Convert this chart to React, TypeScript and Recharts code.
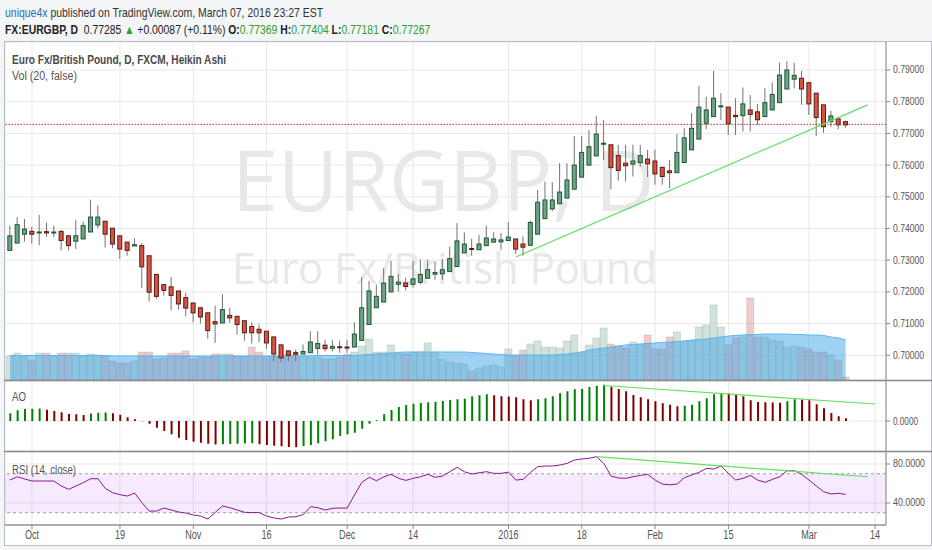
import React, { useLayoutEffect, useRef, useState } from "react";
import {
  ComposedChart,
  Bar,
  Area,
  Line,
  XAxis,
  YAxis,
  CartesianGrid,
  ReferenceLine,
  ReferenceArea,
  Cell,
} from "recharts";

// Heikin Ashi candles, Sep 28 2015 .. Mar 8 2016 (bar index 0..114)
const opens = [
  0.7331, 0.7354, 0.7382, 0.7391, 0.7386, 0.739, 0.7388, 0.7391, 0.7377, 0.736,
  0.7367, 0.7389, 0.7411, 0.7423, 0.7401, 0.7377, 0.7357, 0.7345, 0.7346, 0.7314,
  0.7255, 0.7223, 0.7216, 0.7203, 0.7182, 0.7165, 0.715, 0.7134, 0.7106, 0.7102,
  0.7126, 0.7123, 0.7109, 0.7091, 0.7082, 0.7076, 0.7058, 0.7033, 0.7014, 0.7009,
  0.7004, 0.7008, 0.7022, 0.7032, 0.7022, 0.7027, 0.7026, 0.7026, 0.7047, 0.7097,
  0.715, 0.7168, 0.72, 0.7224, 0.7228, 0.7224, 0.723, 0.7243, 0.7256, 0.7257,
  0.7264, 0.728, 0.7323, 0.7337, 0.7333, 0.7346, 0.7357, 0.7358, 0.7362, 0.7367,
  0.7351, 0.7347, 0.7382, 0.7431, 0.7462, 0.7478, 0.7496, 0.7524, 0.7562, 0.76,
  0.7629, 0.7666, 0.7664, 0.763, 0.7606, 0.7603, 0.7608, 0.7619, 0.7613, 0.7593,
  0.7582, 0.7576, 0.7608, 0.7648, 0.7682, 0.7732, 0.7753, 0.7784, 0.7783, 0.7757,
  0.7756, 0.7774, 0.7768, 0.7753, 0.7774, 0.7797, 0.784, 0.7871, 0.7874, 0.786,
  0.7827, 0.779, 0.7737, 0.7746, 0.7737,
];
const highs = [
  0.7409, 0.7436, 0.743, 0.7406, 0.7443, 0.7419, 0.7409, 0.7395, 0.7377, 0.7427,
  0.7422, 0.7491, 0.7473, 0.7423, 0.7401, 0.7377, 0.7357, 0.737, 0.7354, 0.7314,
  0.7255, 0.7223, 0.7247, 0.7203, 0.7197, 0.7165, 0.715, 0.7134, 0.7157, 0.7193,
  0.715, 0.7123, 0.7109, 0.7104, 0.7097, 0.7076, 0.7058, 0.7033, 0.7014, 0.7018,
  0.7034, 0.7076, 0.7076, 0.7049, 0.7049, 0.7046, 0.7049, 0.7104, 0.7246, 0.7235,
  0.7223, 0.7275, 0.7298, 0.7257, 0.7245, 0.7298, 0.7302, 0.7302, 0.7294, 0.7305,
  0.7343, 0.7417, 0.7388, 0.7367, 0.738, 0.7409, 0.7388, 0.7386, 0.742, 0.7367,
  0.7375, 0.7425, 0.7522, 0.7548, 0.7546, 0.7606, 0.7606, 0.7692, 0.7692, 0.7711,
  0.7755, 0.7742, 0.7664, 0.7664, 0.7664, 0.7664, 0.7664, 0.7648, 0.7648, 0.7593,
  0.7616, 0.7698, 0.7716, 0.7764, 0.785, 0.7816, 0.7897, 0.7827, 0.7783, 0.7811,
  0.7845, 0.7821, 0.7793, 0.7842, 0.7861, 0.7923, 0.7928, 0.7923, 0.7897, 0.786,
  0.7827, 0.779, 0.7771, 0.7746, 0.774,
];
const lows = [
  0.7331, 0.7354, 0.7359, 0.7352, 0.7347, 0.7373, 0.7373, 0.7331, 0.7331, 0.7335,
  0.7367, 0.7389, 0.7401, 0.734, 0.7338, 0.7304, 0.7314, 0.7345, 0.7212, 0.7169,
  0.7178, 0.7188, 0.7142, 0.7144, 0.7123, 0.7104, 0.71, 0.7052, 0.7039, 0.7102,
  0.7102, 0.7065, 0.7046, 0.7037, 0.7042, 0.702, 0.6981, 0.6978, 0.6981, 0.6981,
  0.7004, 0.7008, 0.7002, 0.7012, 0.7012, 0.7008, 0.7008, 0.7026, 0.7047, 0.7097,
  0.715, 0.7168, 0.72, 0.72, 0.7205, 0.7214, 0.7223, 0.7243, 0.7238, 0.7238,
  0.7264, 0.728, 0.7323, 0.7314, 0.7333, 0.7346, 0.7357, 0.7333, 0.7362, 0.732,
  0.7314, 0.7347, 0.7382, 0.7431, 0.7455, 0.7478, 0.7496, 0.7524, 0.7562, 0.76,
  0.7629, 0.7616, 0.7524, 0.7551, 0.7548, 0.7564, 0.7595, 0.7562, 0.7538, 0.7538,
  0.7527, 0.7576, 0.7608, 0.7648, 0.7682, 0.7713, 0.7753, 0.7742, 0.7695, 0.7695,
  0.7706, 0.7706, 0.7727, 0.7753, 0.7774, 0.7797, 0.784, 0.7842, 0.779, 0.7758,
  0.7692, 0.7702, 0.7721, 0.7713, 0.7718,
];
const closes = [
  0.7377, 0.7412, 0.7398, 0.7382, 0.7389, 0.7386, 0.7389, 0.7362, 0.7346, 0.7377,
  0.7409, 0.7436, 0.7436, 0.7382, 0.7351, 0.7335, 0.7331, 0.7349, 0.7279, 0.7199,
  0.7186, 0.7205, 0.7189, 0.7162, 0.7149, 0.7134, 0.7121, 0.7078, 0.7099, 0.7144,
  0.7118, 0.7097, 0.7071, 0.7071, 0.7071, 0.7039, 0.7004, 0.6992, 0.7, 0.7003,
  0.7012, 0.7042, 0.7037, 0.7021, 0.7028, 0.7024, 0.7025, 0.7067, 0.715, 0.7203,
  0.7186, 0.7228, 0.7249, 0.7231, 0.7217, 0.7241, 0.7255, 0.727, 0.7261, 0.727,
  0.7305, 0.7361, 0.7351, 0.7335, 0.7351, 0.737, 0.7367, 0.7364, 0.7373, 0.7335,
  0.7341, 0.7419, 0.7483, 0.749, 0.749, 0.7515, 0.7553, 0.76, 0.764, 0.7658,
  0.7698, 0.7669, 0.7592, 0.7583, 0.7598, 0.7613, 0.763, 0.7604, 0.7572, 0.7564,
  0.7576, 0.764, 0.7686, 0.7716, 0.7783, 0.7774, 0.7811, 0.7787, 0.773, 0.7753,
  0.7793, 0.776, 0.7743, 0.7797, 0.7823, 0.7884, 0.79, 0.7883, 0.784, 0.7793,
  0.775, 0.7721, 0.7755, 0.7727, 0.7727,
];

// Vol (20): volume per bar and its 20-bar average, in thousands
const volumes = [
  24, 27, 24, 20, 27, 27, 24, 27, 27, 27, 24, 26, 25, 24, 19, 17, 17, 19, 28, 28,
  21, 22, 27, 27, 29, 21, 23, 23, 26, 26, 26, 24, 24, 33, 28, 24, 24, 25, 26, 25,
  24, 23, 23, 21, 21, 23, 26, 28, 34, 41, 28, 28, 35, 28, 26, 28, 28, 37, 28, 21,
  18, 17, 16, 9, 12, 14, 15, 13, 31, 24, 30, 36, 39, 33, 33, 32, 39, 45, 28, 35,
  42, 52, 36, 34, 32, 38, 36, 45, 31, 31, 43, 48, 39, 39, 53, 55, 75, 53, 35, 42,
  43, 82, 43, 43, 40, 39, 33, 34, 33, 31, 28, 28, 25, 20, 3,
];
const volumeMa = [
  24.5, 24.5, 24.5, 24.5, 24.5, 24.5, 24.5, 24.5, 24.5, 24.5, 24.5, 24.5, 24.5, 24.5, 24, 24, 24, 24, 24, 24,
  24, 24, 24, 24, 24, 24, 24, 24, 24, 24, 24, 24, 24, 24, 24, 24, 24, 24, 24, 24,
  24, 24.5, 24.5, 24.5, 24.5, 24.5, 24.5, 24.5, 25, 25.5, 26, 26.5, 27, 27.5, 28, 28, 28, 28, 28, 28,
  28, 28, 28, 27.5, 27, 26.5, 26, 25.5, 25, 25, 25, 25, 25, 25, 25, 25.5, 26, 27, 28, 30,
  31, 32, 33, 34, 35, 35.5, 36, 36.5, 37, 37.5, 38, 38.5, 39, 40, 40.5, 41, 42, 43, 44, 44.5,
  45, 45.5, 45.5, 46, 46, 46, 46, 45.5, 45.5, 45, 45, 44.5, 43, 42, 40,
];

// Awesome Oscillator, in pips
const aoValues = [
  31, 43, 48, 49, 50, 45, 40, 35, 28, 27, 24, 30, 33, 34, 31, 25, 15, 7, -1, -11,
  -27, -40, -53, -67, -76, -83, -87, -91, -94, -93, -92, -91, -90, -89, -93, -96, -99, -101, -104, -105,
  -100, -96, -89, -81, -73, -60, -53, -47, -31, -11, 3, 27, 44, 56, 64, 69, 72, 75, 77, 80,
  84, 87, 89, 99, 103, 107, 103, 99, 98, 95, 87, 83, 87, 91, 99, 111, 119, 127, 128, 136,
  141, 145, 137, 128, 119, 104, 95, 87, 79, 71, 65, 59, 61, 65, 79, 91, 107, 111, 110, 104,
  99, 83, 76, 75, 74, 73, 79, 87, 86, 83, 67, 51, 32, 19, 11,
];

// RSI (14, close)
const rsiValues = [
  63.5, 66.9, 64.6, 62.5, 62.5, 62.5, 62.5, 57.4, 54.0, 57.4, 60.8, 64.9, 64.9, 55.0, 50.5, 48.5, 47.1, 50.2, 40.3, 31.7,
  31.7, 34.8, 32.8, 30.7, 29.7, 27.6, 26.6, 23.5, 30.4, 36.9, 35.1, 32.8, 30.4, 30.1, 30.1, 26.6, 24.6, 23.5, 25.6, 25.9,
  28.0, 36.2, 35.1, 32.8, 34.5, 34.8, 34.8, 48.2, 61.2, 66.3, 62.8, 66.9, 69.4, 65.3, 63.2, 65.3, 66.9, 69.4, 66.3, 67.6,
  72.1, 76.6, 72.0, 69.7, 71.0, 72.1, 70.4, 70.4, 71.7, 63.5, 64.2, 71.4, 77.2, 77.9, 77.9, 78.9, 80.6, 84.1, 85.1, 85.8,
  87.5, 80.6, 67.6, 65.6, 65.3, 66.9, 68.3, 69.4, 63.5, 59.4, 58.7, 59.4, 65.9, 68.7, 71.4, 75.5, 74.8, 77.9, 70.4, 63.5,
  65.3, 68.3, 63.5, 61.2, 64.2, 66.9, 73.1, 73.1, 69.4, 63.5, 57.4, 51.5, 49.2, 49.9, 48.8,
];

const tickIndex = [3, 15, 25, 35, 46, 55, 68, 78, 88, 98, 109, 118];
const tickLabels = ["Oct", "19", "Nov", "16", "Dec", "14", "2016", "18", "Feb", "15", "Mar", "14"];
const priceTicks = [0.7, 0.71, 0.72, 0.73, 0.74, 0.75, 0.76, 0.77, 0.78, 0.79];
const lastPrice = 0.77285;

// hand-drawn trend lines: [bar index, value]
const priceTrend = [[69, 0.731], [117, 0.779]];
const aoTrend = [[81, 142], [118, 68]];
const rsiTrend = [[80, 87.5], [117, 66.9]];

// OHLC readout in the header
const ohlcLabels = ["O:", "H:", "L:", "C:"];
const ohlcValues = ["0.77369", "0.77404", "0.77181", "0.77267"];

const X_DOMAIN = [-0.68, 119.5];
const PRICE_DOMAIN = [0.69221, 0.79883];
const FONT = "'Liberation Sans', Arial, sans-serif";
const MARGIN = { top: 0, right: 0, bottom: 0, left: 0 };
const MARGIN_R = { top: 0, right: 45, bottom: 0, left: 0 };

const UP = "#6BA583";
const DOWN = "#D75442";
const QUOTE_GREEN = "#2e9e2e";

const rows = opens.map((o, i) => ({
  i,
  o,
  h: highs[i],
  l: lows[i],
  c: closes[i],
  range: [lows[i], highs[i]],
  v: volumes[i],
  ma: volumeMa[i],
  ao: aoValues[i],
  rsi: rsiValues[i],
}));

function Candle(props: any) {
  const { x, y, width, height, payload } = props;
  if (x == null || y == null) return null;
  const { o, h, l, c } = payload;
  const top = Math.min(y, y + height);
  const hh = Math.abs(height);
  const span = h - l;
  const py = (v: number) => (span > 0 ? top + ((h - v) / span) * hh : top);
  const up = c >= o;
  const cx = x + width / 2;
  const bTop = py(Math.max(o, c));
  const bh = Math.max(py(Math.min(o, c)) - bTop, 1);
  return (
    <g>
      <line x1={cx} x2={cx} y1={top} y2={top + hh} stroke="#737375" strokeWidth={1} />
      <rect
        x={x + 0.5}
        y={bTop}
        width={width - 1}
        height={bh}
        fill={up ? UP : DOWN}
        stroke={up ? "#225437" : "#5B1A13"}
        strokeWidth={1}
      />
    </g>
  );
}

function AxisLabel({ x, y, payload, digits, w }: any) {
  return (
    <text
      x={x + 1}
      y={y + 3.5}
      fontSize={10}
      fill="#555"
      fontFamily={FONT}
      textLength={w}
      lengthAdjust="spacingAndGlyphs"
    >
      {Number(payload.value).toFixed(digits)}
    </text>
  );
}

function DateLabel({ x, y, payload }: any) {
  const label = tickLabels[tickIndex.indexOf(payload.value)];
  return (
    <text
      transform={`translate(${x},${y + 8}) scale(0.76,1)`}
      textAnchor="middle"
      fontSize={12}
      fill="#555"
      fontFamily={FONT}
    >
      {label}
    </text>
  );
}

const seg = (pts: number[][]) => pts.map(([x, y]) => ({ x, y }));

// bottom layer: grid + volume bars
function VolumeLayer() {
  return (
    <ComposedChart width={926} height={338} data={rows} margin={MARGIN_R}>
      <CartesianGrid yAxisId="price" stroke="#e8e8e8" />
      <XAxis dataKey="i" type="number" domain={X_DOMAIN} ticks={tickIndex} hide allowDataOverflow />
      <YAxis yAxisId="price" hide domain={PRICE_DOMAIN} ticks={priceTicks} allowDataOverflow />
      <YAxis yAxisId="vol" hide domain={[0, 338]} allowDataOverflow />
      <Bar yAxisId="vol" dataKey="v" barSize={7} isAnimationActive={false}>
        {rows.map((r) => (
          <Cell
            key={r.i}
            fill={r.c >= r.o ? UP : DOWN}
            fillOpacity={0.3}
            stroke="#8c9aab"
            strokeOpacity={0.5}
            strokeWidth={0.6}
          />
        ))}
      </Bar>
    </ComposedChart>
  );
}

// middle layer: 20-bar volume average
function VolumeMaLayer() {
  return (
    <ComposedChart width={926} height={338} data={rows} margin={MARGIN_R}>
      <XAxis dataKey="i" type="number" domain={X_DOMAIN} hide allowDataOverflow />
      <YAxis yAxisId="vol" hide domain={[0, 338]} allowDataOverflow />
      <Area
        yAxisId="vol"
        dataKey="ma"
        type="monotone"
        fill="#3fa3e6"
        fillOpacity={0.5}
        stroke="#5cb6ee"
        strokeWidth={1}
        isAnimationActive={false}
      />
    </ComposedChart>
  );
}

// top layer: candles, price axis, lines
function PriceLayer() {
  return (
    <ComposedChart width={926} height={338} data={rows} margin={MARGIN}>
      <XAxis dataKey="i" type="number" domain={X_DOMAIN} hide allowDataOverflow />
      <YAxis
        yAxisId="price"
        orientation="right"
        width={45}
        domain={PRICE_DOMAIN}
        ticks={priceTicks}
        allowDataOverflow
        tickSize={4}
        axisLine={{ stroke: "#888" }}
        tickLine={{ stroke: "#888" }}
        tick={<AxisLabel digits={5} w={31} />}
      />
      <Bar yAxisId="price" dataKey="range" barSize={5} shape={<Candle />} isAnimationActive={false} />
      <ReferenceLine yAxisId="price" y={lastPrice} stroke="#b8382a" strokeDasharray="1.5 1.5" />
      <ReferenceLine yAxisId="price" segment={seg(priceTrend)} stroke="#62e062" strokeWidth={1.2} />
    </ComposedChart>
  );
}

function AoPane() {
  return (
    <ComposedChart width={926} height={70} data={rows} margin={MARGIN}>
      <CartesianGrid yAxisId="ao" stroke="#e8e8e8" />
      <XAxis dataKey="i" type="number" domain={X_DOMAIN} ticks={tickIndex} hide allowDataOverflow />
      <YAxis
        yAxisId="ao"
        orientation="right"
        width={45}
        domain={[-120, 160]}
        ticks={[0]}
        allowDataOverflow
        tickSize={4}
        axisLine={{ stroke: "#888" }}
        tickLine={{ stroke: "#888" }}
        tick={<AxisLabel digits={4} w={25} />}
      />
      <Bar yAxisId="ao" dataKey="ao" barSize={2} isAnimationActive={false}>
        {rows.map((r, i) => (
          <Cell key={r.i} fill={i === 0 || aoValues[i] >= aoValues[i - 1] ? "#008000" : "#800000"} />
        ))}
      </Bar>
      <ReferenceLine yAxisId="ao" segment={seg(aoTrend)} stroke="#62e062" strokeWidth={1.2} />
    </ComposedChart>
  );
}

function RsiPane() {
  return (
    <ComposedChart width={926} height={93} data={rows} margin={MARGIN}>
      <CartesianGrid yAxisId="rsi" stroke="#e8e8e8" />
      <XAxis
        dataKey="i"
        type="number"
        domain={X_DOMAIN}
        ticks={tickIndex}
        allowDataOverflow
        height={20}
        tickSize={4}
        axisLine={{ stroke: "#666" }}
        tickLine={{ stroke: "#888" }}
        tick={<DateLabel />}
      />
      <YAxis
        yAxisId="rsi"
        orientation="right"
        width={45}
        domain={[17.4, 92.3]}
        ticks={[40, 80]}
        allowDataOverflow
        tickSize={4}
        axisLine={{ stroke: "#888" }}
        tickLine={{ stroke: "#888" }}
        tick={<AxisLabel digits={4} w={32} />}
      />
      <ReferenceArea yAxisId="rsi" y1={30} y2={70} fill="#9915ff" fillOpacity={0.09} stroke="none" />
      <ReferenceLine yAxisId="rsi" y={70} stroke="#a0a0a0" strokeDasharray="3 3" />
      <ReferenceLine yAxisId="rsi" y={30} stroke="#a0a0a0" strokeDasharray="3 3" />
      <Line
        yAxisId="rsi"
        dataKey="rsi"
        type="linear"
        stroke="#8E1599"
        strokeWidth={1}
        dot={false}
        isAnimationActive={false}
      />
      <ReferenceLine yAxisId="rsi" segment={seg(rsiTrend)} stroke="#62e062" strokeWidth={1.2} />
    </ComposedChart>
  );
}

// html line squeezed horizontally to a given width
function FitText({ x, top, width, size, children }: any) {
  const ref = useRef<HTMLDivElement>(null);
  const [k, setK] = useState(1);
  useLayoutEffect(() => {
    const w = ref.current ? ref.current.scrollWidth : 0;
    if (w > 0) setK(width / w);
  }, [width]);
  return (
    <div
      ref={ref}
      style={{
        position: "absolute",
        left: x,
        top,
        fontSize: size,
        lineHeight: `${size + 2}px`,
        whiteSpace: "nowrap",
        color: "#333",
        transform: `scaleX(${k})`,
        transformOrigin: "0 0",
      }}
    >
      {children}
    </div>
  );
}

function Header() {
  const green = { color: QUOTE_GREEN };
  return (
    <>
      <FitText x={5} top={5} width={318} size={13}>
        <span style={{ color: "#2a6db3" }}>unique4x</span> published on TradingView.com, March 07, 2016 23:27 EST
      </FitText>
      <FitText x={5} top={23} width={425} size={12.5}>
        <b style={{ color: "#222" }}>FX:EURGBP, D</b>
        <span style={{ color: "#222" }}>&nbsp; 0.77285 </span>
        <span style={green}>▲</span>
        <span style={{ color: "#222" }}> +0.00087 (+0.11%) </span>
        {ohlcLabels.map((label, i) => (
          <span key={label}>
            <b style={{ color: "#222" }}>{label}</b>
            <span style={green}>{ohlcValues[i]}</span>{" "}
          </span>
        ))}
      </FitText>
    </>
  );
}

export default function App() {
  const abs = (left: number, top: number): React.CSSProperties => ({ position: "absolute", left, top });
  return (
    <div
      style={{
        position: "fixed",
        left: 0,
        top: 0,
        width: 932,
        height: 550,
        overflow: "hidden",
        background: "#f3f5f7",
        fontFamily: FONT,
      }}
    >
      <div
        style={{
          ...abs(4, 41),
          width: 928,
          height: 505,
          boxSizing: "border-box",
          background: "#fff",
          border: "1px solid #b9bec4",
        }}
      />
      <Header />
      <svg width={932} height={550} style={{ ...abs(0, 0) }}>
        <text x={232} y={211} fontSize={84} fill="#e8e8e8" fontFamily="'Open Sans', Arial, sans-serif" textLength={423} lengthAdjust="spacingAndGlyphs">
          EURGBP, D
        </text>
        <text x={232} y={284} fontSize={43} fill="#e8e8e8" fontFamily="'Open Sans', Arial, sans-serif" textLength={425} lengthAdjust="spacingAndGlyphs">
          Euro Fx/British Pound
        </text>
      </svg>
      <div style={abs(5, 42)}>
        <VolumeLayer />
      </div>
      <div style={abs(5, 42)}>
        <VolumeMaLayer />
      </div>
      <div style={abs(5, 42)}>
        <PriceLayer />
      </div>
      <div style={abs(5, 381)}>
        <AoPane />
      </div>
      <div style={abs(5, 452)}>
        <RsiPane />
      </div>
      <svg width={932} height={550} style={{ ...abs(0, 0), pointerEvents: "none" }}>
        <text x={12} y={64} fontSize={12} fontWeight="bold" fill="#4a4a4a" textLength={214} lengthAdjust="spacingAndGlyphs">
          Euro Fx/British Pound, D, FXCM, Heikin Ashi
        </text>
        <text x={12} y={80} fontSize={12} fill="#555" textLength={65} lengthAdjust="spacingAndGlyphs">
          Vol (20, false)
        </text>
        <text x={12} y={401} fontSize={12} fill="#555" textLength={14} lengthAdjust="spacingAndGlyphs">
          AO
        </text>
        <text x={12} y={474} fontSize={12} fill="#555" textLength={64} lengthAdjust="spacingAndGlyphs">
          RSI (14, close)
        </text>
        <line x1={4} x2={932} y1={380.5} y2={380.5} stroke="#8a8a8a" strokeWidth={1.5} />
        <line x1={4} x2={932} y1={451.5} y2={451.5} stroke="#8a8a8a" strokeWidth={1.5} />
      </svg>
    </div>
  );
}
